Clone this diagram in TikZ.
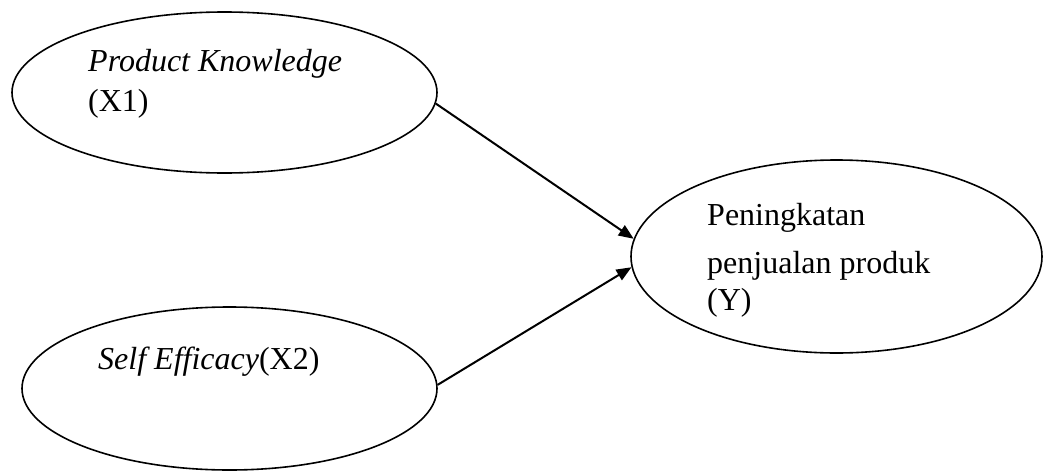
\documentclass[tikz,border=0pt]{standalone}
\usepackage{fontspec}
\setmainfont{Liberation Serif}
\usetikzlibrary{shapes.geometric,arrows.meta}
\begin{document}
\begin{tikzpicture}[x=1pt,y=1pt,
  oval/.style={draw=black, line width=1.6pt, ellipse, inner sep=0pt},
  lbl/.style={anchor=base west, inner sep=0pt, align=left, font=\fontsize{32}{40}\selectfont},
  conn/.style={draw=black, line width=2pt, -{Triangle[length=15pt,width=12pt]}}
]
\useasboundingbox (0,0) rectangle (1044,-471);
\node[oval, minimum width=425pt, minimum height=161pt] (x1) at (224.5,-92.5) {};
\node[oval, minimum width=415pt, minimum height=163pt] (x2) at (229.5,-388.5) {};
\node[oval, minimum width=411pt, minimum height=193pt] (y) at (836.5,-256.5) {};
\node[lbl] (t1) at (88,-111) {\textit{Product Knowledge}\\(X1)};
\node[lbl] (t2) at (98,-369) {\textit{Self Efficacy}(X2)};
\node[lbl] (t3) at (707,-310) {Peningkatan\\[8pt]penjualan produk\\[-3pt](Y)};
\draw[conn] (x1.-3) -- (y.175);
\draw[conn] (x2.1.5) -- (y.183.7);
\end{tikzpicture}
\end{document}
